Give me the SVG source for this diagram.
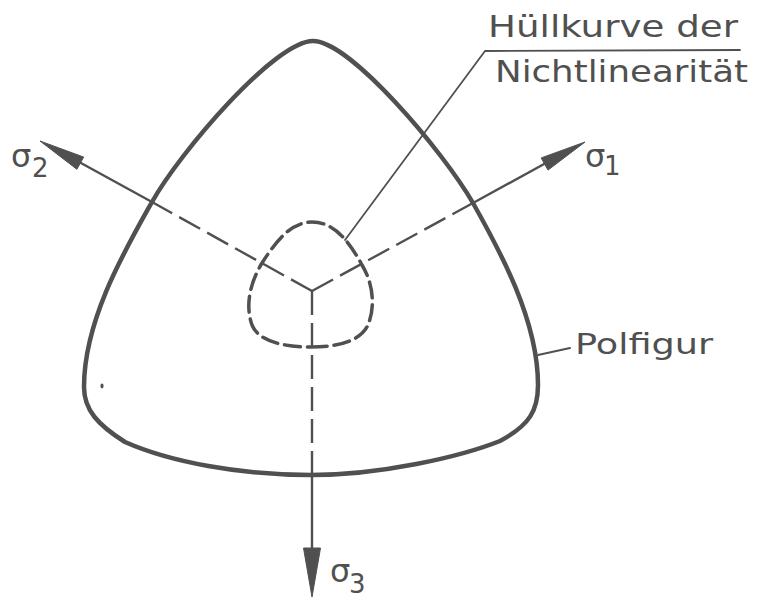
<svg xmlns="http://www.w3.org/2000/svg" width="761" height="602" viewBox="0 0 761 602">
<style>
.ink{fill:none;stroke:#505050;stroke-linecap:round;stroke-linejoin:round}
.outer{stroke-width:4.5}
.inner{stroke-width:3.5;stroke-dasharray:16 7}
.axis{stroke-width:2.4}
.dash{stroke-dasharray:24 8;stroke-linecap:butt}
.head{fill:#505050;stroke:#505050;stroke-width:1}
.lbl{font-family:"DejaVu Sans","Liberation Sans",sans-serif;fill:#505050}
</style>
<rect width="761" height="602" fill="#ffffff"/>
<g id="polfigur">
<path class="ink outer" d="M313,41 C350,41 443,151 473,203 C500,251 538,320 538,385 C538,410 530,425 500,441 C460,457 380,475 311,475 C240,475 170,462 125,442 C98,425 84,410 84,387 C84,320 125,250 152,202 C180,152 275,41 313,41 Z"/>
<ellipse cx="102" cy="386" rx="1.6" ry="2.4" fill="#505050"/>
</g>
<g id="huellkurve">
<path class="ink inner" d="M311,347 C345,347 362,338 368,325 C375,308 374,285 362,265 C350,243 335,222 312,222 C290,222 275,243 262,263 C250,283 245,305 252,325 C258,340 280,347 311,347 Z"/>
</g>
<g id="connectors">
<line class="ink axis dash" x1="312" y1="291" x2="152" y2="202"/>
<line class="ink axis dash" x1="312" y1="291" x2="473" y2="203"/>
<line class="ink axis dash" x1="312" y1="291" x2="312" y2="475"/>
<line class="ink axis" x1="152" y1="202" x2="70" y2="157"/>
<line class="ink axis" x1="473" y1="203" x2="555" y2="158"/>
<line class="ink axis" x1="312" y1="475" x2="312" y2="560"/>
<polygon class="head" points="40,141 83.7,157.1 76.9,169.3"/>
<polygon class="head" points="585,142 541.2,157.9 548,170.1"/>
<polygon class="head" points="312,597 303.5,548 320.5,548"/>
<polyline class="ink" stroke-width="1.8" points="345,240 485,51 740,50"/>
<line class="ink" stroke-width="2" x1="538" y1="355" x2="570" y2="348"/>
</g>
<g id="labels">
<text class="lbl" x="488" y="37" font-size="31" textLength="250" lengthAdjust="spacingAndGlyphs">Hüllkurve der</text>
<text class="lbl" x="495" y="82" font-size="31" textLength="253" lengthAdjust="spacingAndGlyphs">Nichtlinearität</text>
<text class="lbl" x="575" y="354" font-size="29" textLength="138" lengthAdjust="spacingAndGlyphs">Polfigur</text>
<text class="lbl" x="11" y="167" font-size="32">σ<tspan x="32" y="177" font-size="26">2</tspan></text>
<text class="lbl" x="585" y="167" font-size="32">σ<tspan x="604" y="175" font-size="26">1</tspan></text>
<text class="lbl" x="330" y="582" font-size="32">σ<tspan x="349" y="593" font-size="26">3</tspan></text>
</g>
</svg>
